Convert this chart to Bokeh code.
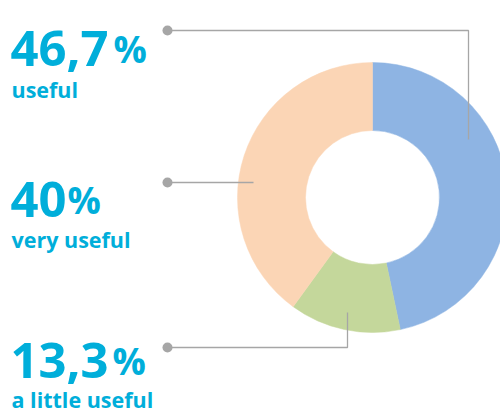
import math
from bokeh.plotting import figure
from bokeh.models import Range1d, ColumnDataSource
from bokeh.core.properties import value
from bokeh.embed import file_html
from bokeh.resources import INLINE

# ---- data ----
categories = ["useful", "a little useful", "very useful"]   # clockwise order from 12 o'clock
values = [46.7, 13.3, 40.0]
colors = ["#8EB4E3", "#C4D79B", "#FBD5B5"]

label_order = ["useful", "very useful", "a little useful"]   # top-to-bottom text blocks

# ---- layout (screen-pixel coordinates, y measured from top of picture) ----
W, H = 500, 408
cx, cy = 372, 197
r_out, r_in = 135, 67
num_baseline = [48, 199, 360]
num_left = 10
pct_left = [113, 67, 112]
lab_baseline = [89, 239, 399]
dot_y = [30, 182, 347]
dot_x = 167
leader_paths = [
    [(dot_x, 30), (468, 30), (468, 139)],
    [(dot_x, 182), (253, 182)],
    [(dot_x, 347), (347, 347), (347, 312)],
]

def Y(sy):
    return H - sy

p = figure(width=W, height=H, output_backend="svg", toolbar_location=None,
           x_range=Range1d(0, W), y_range=Range1d(0, H),
           min_border=0)
p.axis.visible = False
p.grid.visible = False
p.outline_line_color = None
p.background_fill_color = "white"
p.border_fill_color = "white"

# donut
total = sum(values)
starts, ends = [], []
acc = 0.0
for v in values:
    starts.append(math.pi / 2 - 2 * math.pi * acc / total)
    acc += v
    ends.append(math.pi / 2 - 2 * math.pi * acc / total)
src = ColumnDataSource(dict(start=starts, end=ends, color=colors, cat=categories))
p.annular_wedge(x=cx, y=Y(cy), inner_radius=r_in, outer_radius=r_out,
                start_angle="start", end_angle="end", direction="clock",
                fill_color="color", line_color="color", line_width=0.5, source=src)

# leader lines and dots
grey = "#A6A6A6"
for path in leader_paths:
    p.line([pt[0] for pt in path], [Y(pt[1]) for pt in path], line_color=grey, line_width=1.3)
p.scatter([dot_x] * 3, [Y(y) for y in dot_y], size=10, fill_color=grey, line_color=None)

# texts
val_map = dict(zip(categories, values))
def fmt(v):
    s = f"{v:.1f}".replace(".", ",")
    return s[:-2] if s.endswith(",0") else s

nums = [fmt(val_map[c]) for c in label_order]
cyan = "#00AEDA"
p.text(x=[num_left] * 3, y=[Y(b) for b in num_baseline], text=nums,
       text_font=value("Open Sans"), text_font_style="bold", text_font_size=value("49px"),
       text_color=cyan, text_baseline="alphabetic", text_align="left")
p.text(x=pct_left, y=[Y(b) for b in num_baseline], text=["%"] * 3,
       text_font=value("Open Sans"), text_font_style="bold", text_font_size=value("37px"),
       text_color=cyan, text_baseline="alphabetic", text_align="left")
p.text(x=[num_left + 1] * 3, y=[Y(b) for b in lab_baseline], text=label_order,
       text_font=value("Open Sans"), text_font_style="bold", text_font_size=value("21.5px"),
       text_color=cyan, text_baseline="alphabetic", text_align="left")

open("out.html", "w").write(file_html(p, INLINE))
